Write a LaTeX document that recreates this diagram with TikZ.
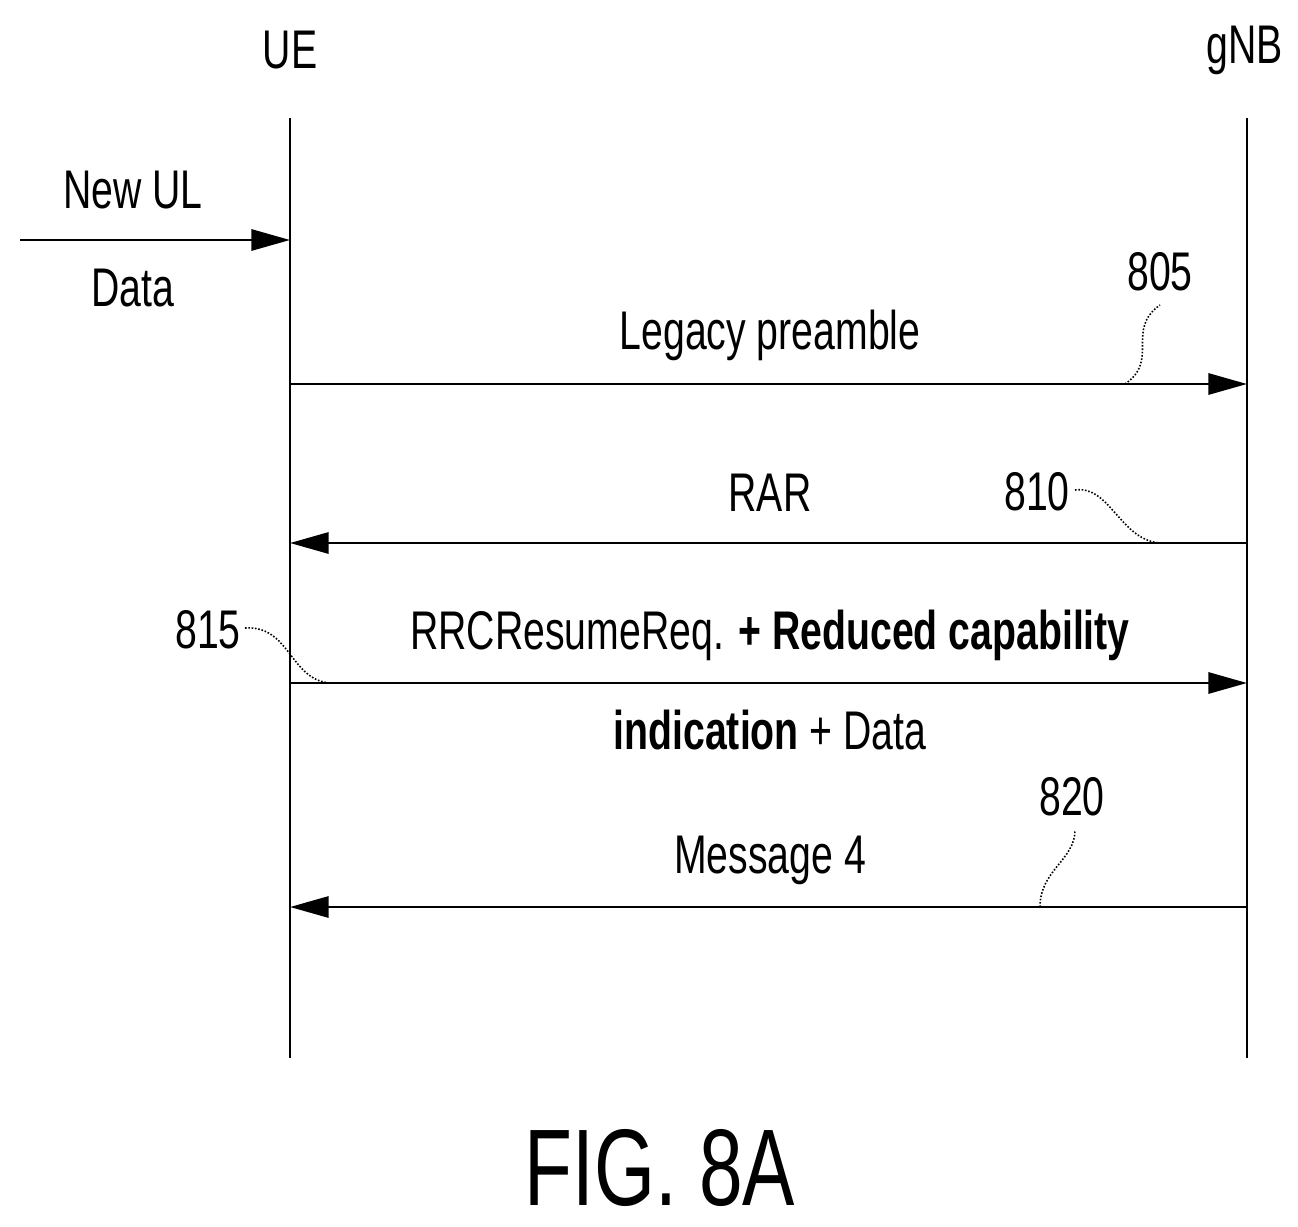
\documentclass[tikz,border=0pt]{standalone}
\usepackage{fontspec}
\setmainfont{Liberation Sans}[FakeStretch=0.72]
\usetikzlibrary{arrows.meta,positioning}
\tikzset{
  msg/.style={line width=1.6pt,-{Triangle[length=22pt,width=12pt]}},
  life/.style={line width=1.6pt},
  lbl/.style={font=\fontsize{31}{36}\selectfont,inner sep=0pt},
  lead/.style={line width=0.9pt,densely dotted}
}
\begin{document}
\begin{tikzpicture}[x=0.02cm,y=-0.02cm]
\useasboundingbox (0,0) rectangle (1298,1227);
% entities
\node[lbl] (ue) at (290,50) {UE};
\node[lbl] (gnb) at (1245,50) {gNB};
\coordinate (uetop) at (290,118);
\coordinate (uebot) at (290,1058);
\coordinate (gnbtop) at (1247,118);
\coordinate (gnbbot) at (1247,1058);
\draw[life] (uetop) -- (uebot);
\draw[life] (gnbtop) -- (gnbbot);
% trigger
\coordinate (in) at (20,240);
\coordinate (ue0) at (290,240);
\draw[msg] (in) -- (ue0);
\node[lbl] (newul) at (133,190) {New UL};
\node[lbl] (data) at (133,288) {Data};
% messages
\coordinate (ue1) at (290,384);
\coordinate (gnb1) at (1247,384);
\draw[msg] (ue1) -- (gnb1);
\node[lbl] (m1) at (770,335) {Legacy preamble};
\node[lbl] (n805) at (1160,272) {805};
\draw[lead] (1125,384) .. controls (1160,360) and (1125,330) .. (1160,305);
\coordinate (ue2) at (290,543);
\coordinate (gnb2) at (1247,543);
\draw[msg] (gnb2) -- (ue2);
\node[lbl] (m2) at (770,493) {RAR};
\node[lbl] (n810) at (1037,492) {810};
\draw[lead] (1075,490) .. controls (1110,485) and (1120,540) .. (1160,543);
\coordinate (ue3) at (290,683);
\coordinate (gnb3) at (1247,683);
\draw[msg] (ue3) -- (gnb3);
\node[lbl] (m3a) at (770,635) {RRCResumeReq. \textbf{+ Reduced capability}};
\node[lbl] (m3b) at (770,730) {\textbf{indication} + Data};
\node[lbl] (n815) at (208,630) {815};
\draw[lead] (245,628) .. controls (290,625) and (290,680) .. (330,683);
\coordinate (ue4) at (290,907);
\coordinate (gnb4) at (1247,907);
\draw[msg] (gnb4) -- (ue4);
\node[lbl] (m4) at (770,860) {Message 4};
\node[lbl] (n820) at (1072,797) {820};
\draw[lead] (1040,907) .. controls (1040,870) and (1075,860) .. (1075,830);
% caption
\node[font=\fontsize{62}{70}\selectfont,inner sep=0pt] (fig) at (660,1168) {FIG. 8A};
\end{tikzpicture}
\end{document}
